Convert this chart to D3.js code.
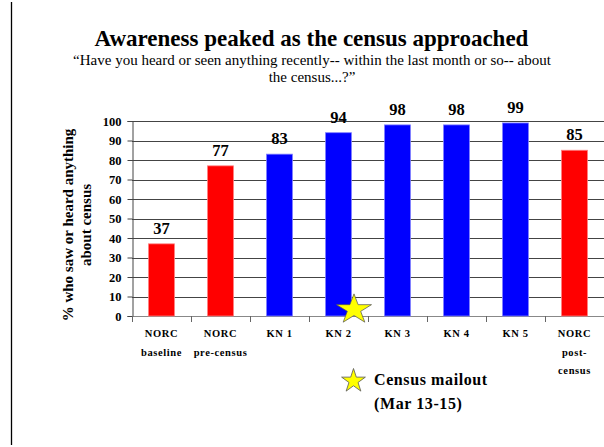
<!DOCTYPE html>
<html><head><meta charset="utf-8">
<script src="https://cdn.jsdelivr.net/npm/d3@7"></script>
<style>body{margin:0;background:#fff}svg{display:block}</style>
</head><body>
<script>
const categories = [["NORC","baseline"],["NORC","pre-census"],["KN 1"],["KN 2"],["KN 3"],["KN 4"],["KN 5"],["NORC","post-","census"]];
const values = [37, 77, 83, 94, 98, 98, 99, 85];
const sources = ["NORC","NORC","KN","KN","KN","KN","KN","NORC"];
const yTicks = [0,10,20,30,40,50,60,70,80,90,100];
const mailoutCategory = 3; // KN 2

const W = 604, H = 447;
const svg = d3.select("body").append("svg").attr("width", W).attr("height", H);
const serif = "Liberation Serif, Times New Roman, serif";

svg.append("line").attr("x1",11.5).attr("x2",11.5).attr("y1",2).attr("y2",445)
  .attr("stroke","#000").attr("stroke-width",1.3);

const ids = categories.map((c,i)=>i);
const x = d3.scaleBand().domain(ids).range([132, 604]).paddingInner(0.56).paddingOuter(0.28);
const y = d3.scaleLinear().domain([0,100]).range([316, 121]);
const step = x.step();

// gridlines
svg.append("g").selectAll("line").data(yTicks).join("line")
  .attr("x1",132).attr("x2",604)
  .attr("y1",d=>Math.round(y(d))+0.5).attr("y2",d=>Math.round(y(d))+0.5)
  .attr("stroke",d=>(d===0)?"#888":"#444").attr("stroke-width",1);

// y axis
const ya = svg.append("g").attr("transform","translate(132.5,0)")
  .call(d3.axisLeft(y).tickValues(yTicks).tickSize(5).tickPadding(6).tickFormat(d3.format("d")));
ya.select(".domain").attr("stroke","#444");
ya.selectAll(".tick line").attr("stroke","#444");
ya.selectAll(".tick text").style("font-family",serif).attr("font-weight","bold").attr("font-size",12.5).attr("fill","#000");

// x ticks at band boundaries
const bounds = d3.range(categories.length+1).map(i=>132+i*step);
svg.append("g").selectAll("line").data(bounds).join("line")
  .attr("x1",d=>Math.round(d)+0.5).attr("x2",d=>Math.round(d)+0.5)
  .attr("y1",316).attr("y2",322).attr("stroke","#666");

// bars
const color = s => s==="NORC" ? "#ff0000" : "#0000ff";
const edge = s => s==="NORC" ? "#ff8080" : "#8080ff";
svg.append("g").selectAll("rect").data(values).join("rect")
  .attr("x",(d,i)=>x(i)).attr("width",x.bandwidth())
  .attr("y",d=>y(d)).attr("height",d=>y(0)-y(d))
  .attr("fill",(d,i)=>color(sources[i])).attr("stroke",(d,i)=>edge(sources[i])).attr("stroke-width",0.8);

// value labels
svg.append("g").selectAll("text").data(values).join("text")
  .attr("x",(d,i)=>x(i)+x.bandwidth()/2).attr("y",d=>y(d)-10)
  .attr("text-anchor","middle").style("font-family",serif).attr("font-weight","bold")
  .attr("font-size",16.5).text(d=>d);

// category labels
const cl = svg.append("g").selectAll("text").data(categories).join("text")
  .attr("text-anchor","middle").style("font-family",serif).attr("font-weight","bold")
  .attr("font-size",10.5).attr("letter-spacing",0.6);
cl.each(function(lines,i){
  const t = d3.select(this);
  lines.forEach((l,j)=>t.append("tspan").attr("x",x(i)+x.bandwidth()/2).attr("y",337+j*18.5).text(l));
});

// mailout star on chart
const starPath = d3.symbol(d3.symbolStar, Math.pow(18.4,2)/0.8908130915292852)();
svg.append("path").attr("d",starPath)
  .attr("transform",`translate(${x(mailoutCategory)+x.bandwidth()/2+15.5},309.5) scale(1,0.85)`)
  .attr("fill","#ffff00").attr("stroke","#555").attr("stroke-width",0.8);

// legend
const starSmall = d3.symbol(d3.symbolStar, Math.pow(12.5,2)/0.8908130915292852)();
svg.append("path").attr("d",starSmall).attr("transform","translate(353.5,381)")
  .attr("fill","#ffff00").attr("stroke","#555").attr("stroke-width",0.8);
svg.append("text").attr("x",374).attr("y",385).style("font-family",serif).attr("font-weight","bold")
  .attr("font-size",16).attr("letter-spacing",0.6).text("Census mailout");
svg.append("text").attr("x",374).attr("y",409).style("font-family",serif).attr("font-weight","bold")
  .attr("font-size",16).attr("letter-spacing",0.6).text("(Mar 13-15)");

// titles
svg.append("text").attr("x",311.5).attr("y",46).attr("text-anchor","middle").style("font-family",serif)
  .attr("font-weight","bold").attr("font-size",23).text("Awareness peaked as the census approached");
svg.append("text").attr("x",312).attr("y",65).attr("text-anchor","middle").style("font-family",serif)
  .attr("font-size",15).text("\u201CHave you heard or seen anything recently-- within the last month or so-- about");
svg.append("text").attr("x",312).attr("y",81.5).attr("text-anchor","middle").style("font-family",serif)
  .attr("font-size",15).text("the census...?\u201D");

// y axis title
const yt = svg.append("text").attr("transform","translate(0,225) rotate(-90)")
  .attr("text-anchor","middle").style("font-family",serif).attr("font-weight","bold").attr("font-size",15);
yt.append("tspan").attr("x",0).attr("y",73).text("% who saw or heard anything");
yt.append("tspan").attr("x",0).attr("y",91).text("about census");
</script>
</body></html>
